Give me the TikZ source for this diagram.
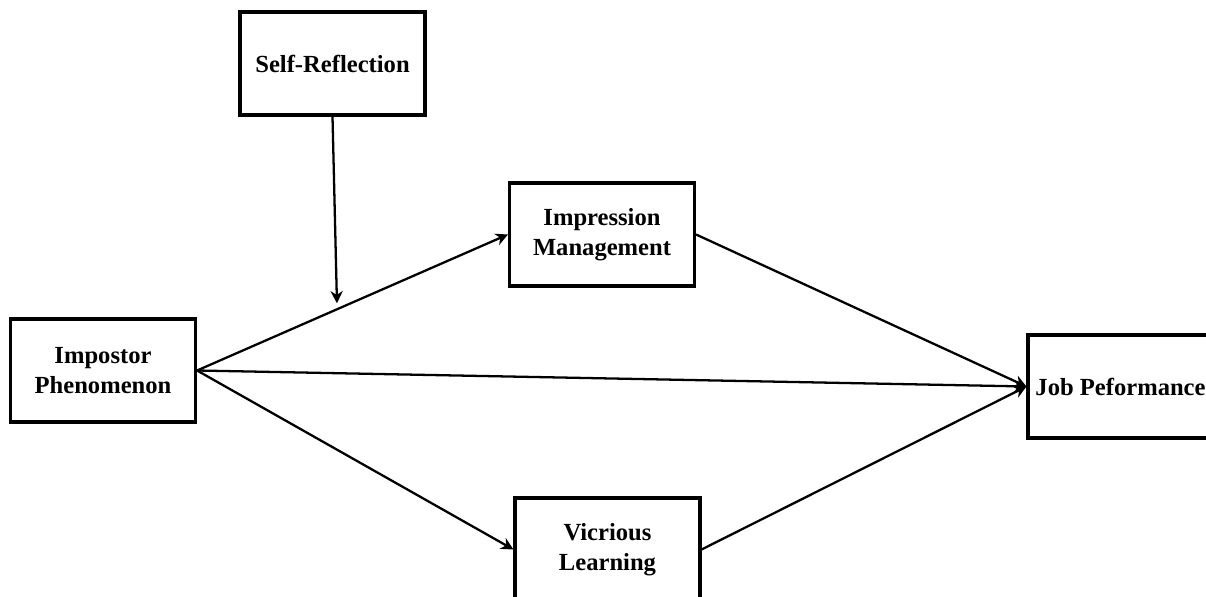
\documentclass[tikz,border=0pt]{standalone}
\usepackage{fontspec}
\setmainfont{Liberation Serif}
\usetikzlibrary{arrows.meta, positioning, calc}

\begin{document}
\begin{tikzpicture}[x=0.02cm,y=-0.02cm,>={Stealth[length=7pt,width=7pt]},line width=1.3pt,
	box/.style={draw, line width=1.8pt, minimum width=3.7cm, minimum height=2.06cm, inner sep=1pt, align=center, font=\fontsize{14}{17}\selectfont\bfseries}]

	\clip (0,0) rectangle (1206,597);

	\node (selfref) [box] at (332.5,63.5) {Self-Reflection};
	\node (impress) [box] at (602,234.5) {Impression\\Management};
	\node (impostor) [box] at (103,370.5) {Impostor\\Phenomenon};
	\node (job) [box] at (1120.5,386.5) {Job Peformance};
	\node (vicar) [box] at (607.5,549.5) {Vicrious\\Learning};

	% moderator hits the first path
	\coordinate (mod) at ($(impostor.east)!0.45!(impress.west)+(0,-6)$);

	\path [->]
	(impostor.east) edge (impress.west)
	(impostor.east) edge (job.west)
	(impostor.east) edge (vicar.west)

	(impress.east) edge (job.west)
	(vicar.east) edge (job.west)

	(selfref.south) edge (mod);

\end{tikzpicture}
\end{document}
